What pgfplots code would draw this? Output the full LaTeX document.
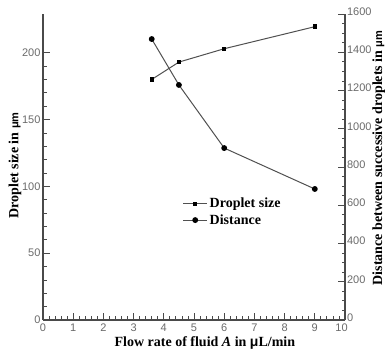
\documentclass[border=0pt]{standalone}
\usepackage{pgfplots}
\pgfplotsset{compat=1.18}
\usepackage{fontspec}
\setmainfont{Liberation Serif}
\setsansfont{Liberation Sans}
\definecolor{axgray}{HTML}{4A4A4A}
\definecolor{lngray}{HTML}{505050}
\definecolor{tkgray}{HTML}{6A6A6A}
\newcommand{\um}{{\sffamily\fontsize{11}{12}\selectfont μm}}
\begin{document}
\begin{tikzpicture}
\path[use as bounding box] (-43pt,-32pt) rectangle (344pt,320pt);
\pgfplotsset{
  common/.style={
    width=302pt, height=306pt, scale only axis,
    at={(0,0)}, anchor=origin,
    xmin=0, xmax=10,
    tick align=inside,
    major tick length=7pt, minor tick length=3.5pt,
    axis line style={axgray, line width=1.2pt},
    every tick/.style={axgray, line width=0.8pt},
    ticklabel style={font=\sffamily\fontsize{11}{12}\selectfont, text=tkgray},
    /pgf/number format/assume math mode=true,
    /pgf/number format/set thousands separator={},
    clip=false,
  }
}
\begin{axis}[common,
  axis x line*=bottom, axis y line*=left,
  ymin=0, ymax=229,
  xtick={0,1,...,10}, minor x tick num=4,
  xticklabels={0,1,2,3,4,5,6,7,8,9,\hspace*{-7pt}10},
  ytick={0,50,100,150,200}, minor y tick num=4,
  xticklabel style={yshift=0pt},
  yticklabel style={xshift=1pt},
  xlabel={\bfseries Flow rate of fluid \textit{A} in {\sffamily μ}L/min},
  x label style={font=\fontsize{14}{15}\selectfont, at={(axis description cs:0.536,-0.075)}, anchor=center},
  ylabel={\bfseries Droplet size in \um},
  y label style={font=\fontsize{14}{15}\selectfont, at={(axis description cs:-0.093,0.505)}, anchor=center},
]
\addplot[lngray, line width=1pt, mark=square*, mark size=1.7pt, mark options={black}]
  coordinates {(3.6,180) (4.5,193) (6,203) (9,219.5)};
\end{axis}
\begin{axis}[common,
  axis x line=none, axis y line*=right,
  ymin=0, ymax=1600,
  ytick={0,200,...,1600}, minor y tick num=3,
  yticklabel style={xshift=-1.5pt, yshift=2.5pt},
  ylabel={\bfseries Distance between successive droplets in \um},
  y label style={font=\fontsize{14}{15}\selectfont, at={(axis description cs:1.112,0.53)}, anchor=center},
  legend style={draw=none, fill=none, at={(axis description cs:0.462,0.405)}, anchor=north west,
    font=\bfseries\fontsize{14}{15}\selectfont, inner sep=0pt, row sep=1pt,
    /tikz/every even column/.append style={column sep=1pt}},
  legend cell align=left,
  legend image code/.code={\draw[#1, mark=none] (0pt,0pt) -- (24pt,0pt);
    \path[#1, draw=none] plot coordinates {(12pt,0pt)};},
]
\addlegendimage{lngray, line width=1pt, mark=square*, mark size=1.7pt, mark options={black}}
\addlegendentry{Droplet size}
\addplot[lngray, line width=1pt, mark=*, mark size=2.4pt, mark options={black}]
  coordinates {(3.6,1469) (4.5,1229) (6,899) (9,685)};
\addlegendentry{Distance}
\end{axis}
\end{tikzpicture}
\end{document}
